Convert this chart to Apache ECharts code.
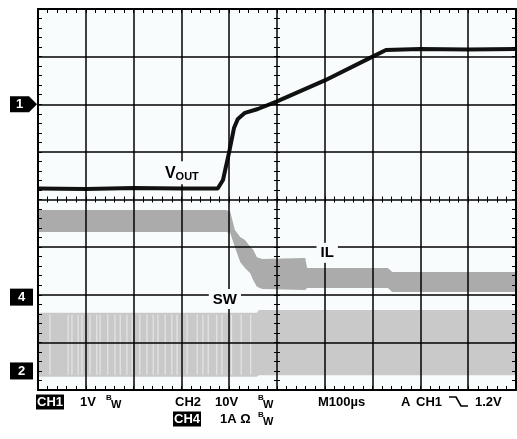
<!DOCTYPE html>
<html><head><meta charset="utf-8">
<script src="https://cdn.jsdelivr.net/npm/echarts@6/dist/echarts.min.js"></script>
<style>html,body{margin:0;padding:0;background:#fff}#c{width:517px;height:439px}</style>
</head><body><div id="c"></div><script>
// Time in microseconds across the screen (100 us/div, 10 div); values in screen divisions
const voutT = [0, 100, 200, 300, 376, 387, 400, 410, 418, 433, 460, 500, 600, 700, 728, 800, 900, 1000];
const voutV = [0.23, 0.22, 0.24, 0.23, 0.23, 0.41, 1.0, 1.5, 1.69, 1.82, 1.9, 2.06, 2.5, 3.0, 3.14, 3.16, 3.15, 3.16];

const ilT   = [0, 393, 402, 412, 423, 433, 444, 450, 458, 469, 559, 563, 732, 741, 1000];
const ilTop = [-0.22, -0.22, -0.25, -0.64, -0.79, -0.85, -0.99, -1.05, -1.21, -1.25, -1.23, -1.44, -1.44, -1.52, -1.52];
const ilBot = [-0.68, -0.68, -0.70, -1.0, -1.31, -1.44, -1.55, -1.69, -1.83, -1.88, -1.90, -1.86, -1.86, -1.94, -1.94];

const swT   = [0, 458, 462, 1000];
const swTop = [-2.38, -2.38, -2.32, -2.32];
const swBot = [-3.72, -3.72, -3.69, -3.69];
const swGaps = [25, 63, 71, 84, 92, 109, 123, 130, 146, 161, 172, 186, 197, 213, 228, 241, 251, 266, 280, 291, 301, 312, 333, 345, 356, 374, 385, 405, 425, 445];

const chMarkers = [{ch: '1', level: 2.0}, {ch: '4', level: -2.05}, {ch: '2', level: -3.6}];
const traceLabels = {vout: [301, 0.56], il: [605, -1.12], sw: [391, -2.09]};

const FONTF = "'Liberation Sans', Arial, sans-serif";
const BLACK = '#000';
const PLOT_BG = '#f9fcfd';

function xAx(ext) {
  return Object.assign({
    type: 'value', min: 0, max: 1000, interval: 100, z: 6,
    axisLabel: {show: false}, splitLine: {show: false},
    axisLine: {show: true, onZero: false, lineStyle: {color: BLACK, width: 2}},
    axisTick: {show: true, inside: true, length: 4, lineStyle: {color: BLACK, width: 1}},
    minorTick: {show: true, splitNumber: 5, length: 4, lineStyle: {color: BLACK, width: 1}}
  }, ext);
}
function yAx(ext) {
  return Object.assign({
    type: 'value', min: -4, max: 4, interval: 1, z: 6,
    axisLabel: {show: false}, splitLine: {show: false},
    axisLine: {show: true, onZero: false, lineStyle: {color: BLACK, width: 2}},
    axisTick: {show: true, inside: true, length: 4, lineStyle: {color: BLACK, width: 1}},
    minorTick: {show: true, splitNumber: 5, length: 4, lineStyle: {color: BLACK, width: 1}}
  }, ext);
}
const centerTickX = (inside) => xAx({position: 'bottom', offset: -190.5, axisLine: {show: false, onZero: false},
  axisTick: {show: true, inside: inside, length: 3, lineStyle: {color: BLACK}},
  minorTick: {show: true, splitNumber: 5, length: 3, lineStyle: {color: BLACK}}});
const centerTickY = (inside) => yAx({position: 'left', offset: -239, axisLine: {show: false, onZero: false},
  axisTick: {show: true, inside: inside, length: 3, lineStyle: {color: BLACK}},
  minorTick: {show: true, splitNumber: 5, length: 3, lineStyle: {color: BLACK}}});

const gridLine = {show: true, lineStyle: {color: '#000', width: 1.5}};

const markerData = chMarkers.map(m => {
  const arrow = m.ch === '1';
  return {
    coord: [0, m.level],
    symbol: arrow ? 'path://M0,0L19,0L27,8L19,16L0,16Z' : 'rect',
    symbolSize: arrow ? [27, 16] : [23, 17],
    symbolOffset: arrow ? [-14.5, 0] : [-16.5, 0],
    symbolKeepAspect: false,
    itemStyle: {color: BLACK},
    label: {show: true, position: 'inside', formatter: m.ch, color: '#fff', fontWeight: 'bold',
      fontSize: 13, fontFamily: FONTF, offset: arrow ? [-4, 0] : [0, 0]}
  };
});

function textLabel(coord, fmt, rich) {
  return {coord: coord, symbol: 'rect', symbolSize: 0,
    label: {show: true, position: 'inside', formatter: fmt, backgroundColor: PLOT_BG,
      padding: [3, 4, 2, 4], color: BLACK, fontWeight: 'bold', fontSize: 15, fontFamily: FONTF, rich: rich || {}}};
}

function bandRender(T, top, bot, color, gaps, gapColor) {
  return function (params, api) {
    const upper = T.map((t, i) => api.coord([t, top[i]]));
    const lower = T.map((t, i) => api.coord([t, bot[i]])).reverse();
    const children = [{type: 'polygon', shape: {points: upper.concat(lower)}, style: {fill: color}}];
    (gaps || []).forEach(g => {
      const a = api.coord([g, top[0] - 0.04]);
      const b = api.coord([g, bot[0] + 0.04]);
      children.push({type: 'line', shape: {x1: a[0], y1: a[1], x2: b[0], y2: b[1]},
        style: {stroke: gapColor, lineWidth: 1}});
    });
    return {type: 'group', children: children};
  };
}

const option = {
  animation: false,
  backgroundColor: '#fff',
  grid: {left: 38, top: 9, width: 478, height: 381, show: true, backgroundColor: PLOT_BG, borderWidth: 0},
  xAxis: [
    xAx({position: 'bottom', splitLine: gridLine}),
    xAx({position: 'top'}),
    centerTickX(true),
    centerTickX(false)
  ],
  yAxis: [
    yAx({position: 'left', splitLine: gridLine}),
    yAx({position: 'right'}),
    centerTickY(true),
    centerTickY(false)
  ],
  series: [
    {
      name: 'SW', type: 'custom', silent: true, data: [[0, 0]],
      renderItem: bandRender(swT, swTop, swBot, '#c9c9c9', swGaps, '#e8ebeb')
    },
    {
      name: 'IL', type: 'custom', silent: true, data: [[0, 0]],
      renderItem: bandRender(ilT, ilTop, ilBot, '#ababab')
    },
    {
      name: 'VOUT', type: 'line', symbol: 'none', silent: true,
      lineStyle: {color: '#111', width: 4},
      data: voutT.map((t, i) => [t, voutV[i]]),
      markPoint: {z: 20, data: markerData.concat([
        textLabel(traceLabels.sw, 'SW'),
        textLabel(traceLabels.il, 'IL'),
        textLabel(traceLabels.vout, '{v|V}{s|OUT}', {
          v: {fontSize: 16, fontWeight: 'bold', fontFamily: FONTF, color: BLACK, lineHeight: 18},
          s: {fontSize: 11, fontWeight: 'bold', fontFamily: FONTF, color: BLACK, padding: [7, 0, 0, 0]}
        })
      ])}
    }
  ],
  graphic: (function () {
    const g = [];
    const T = (x, y, s, size, ext) => g.push({type: 'text', x: x, y: y, z: 100,
      style: Object.assign({text: s, font: 'bold ' + size + 'px ' + FONTF, fill: BLACK, verticalAlign: 'middle'}, ext || {})});
    const box = {fill: '#fff', backgroundColor: BLACK, padding: [2, 1, 0, 1]};
    const r1 = 402, r2 = 419;
    T(36, r1, 'CH1', 13, box);
    T(80, r1, '1V', 13);
    T(106, r1 - 4, 'B', 8); T(111, r1 + 3, 'W', 11);
    T(175, r1, 'CH2', 13);
    T(215, r1, '10V', 13);
    T(258, r1 - 4, 'B', 8); T(263, r1 + 3, 'W', 11);
    T(318, r1, 'M100µs', 13);
    T(401, r1, 'A', 13);
    T(416, r1, 'CH1', 13);
    g.push({type: 'polyline', z: 100, shape: {points: [[449, r1 - 5], [456, r1 - 5], [461, r1 + 4], [468, r1 + 4]]},
      style: {stroke: BLACK, lineWidth: 1.6, fill: null}});
    T(475, r1, '1.2V', 13);
    T(173, r2, 'CH4', 13, box);
    T(220, r2, '1A Ω', 13);
    T(258, r2 - 4, 'B', 8); T(263, r2 + 3, 'W', 11);
    return g;
  })()
};

const chart = echarts.init(document.getElementById('c'), null, {renderer: 'canvas'});
chart.setOption(option);
</script></body></html>
